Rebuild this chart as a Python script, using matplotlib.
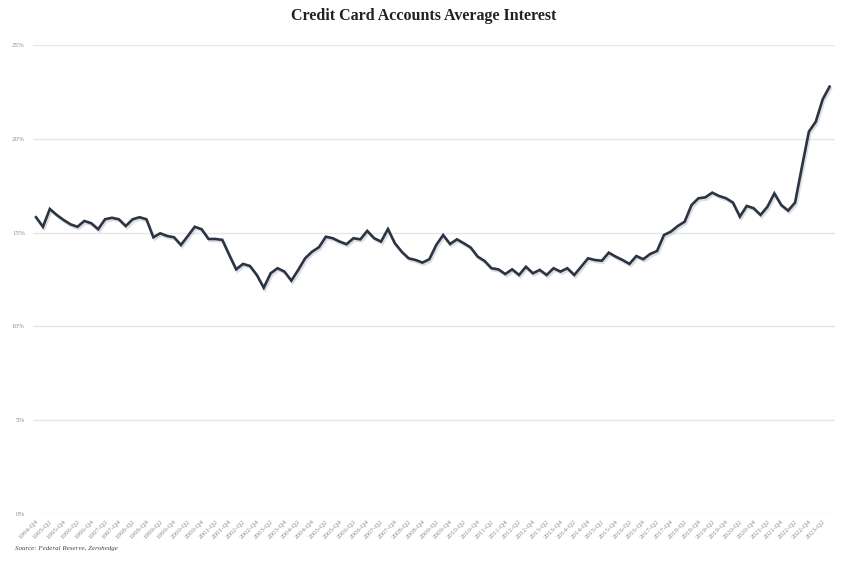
import matplotlib
matplotlib.use("Agg")
import matplotlib.pyplot as plt
import matplotlib.patheffects as pe
import numpy as np

# ----- Data ------------------------------------------------------------------------------------------------------ #

# Quarterly, 1994-Q4 .. 2023-Q3
START_YEAR = 1994
START_Q = 4
RATES = [
    15.82, 15.31, 16.26, 15.94, 15.67, 15.44, 15.31, 15.62, 15.50, 15.18,
    15.71, 15.79, 15.71, 15.35, 15.71, 15.82, 15.71, 14.75, 14.96, 14.82,
    14.75, 14.34, 14.82, 15.31, 15.18, 14.66, 14.66, 14.61, 13.81, 13.04,
    13.33, 13.22, 12.74, 12.06, 12.83, 13.10, 12.92, 12.44,
    13.01, 13.63, 13.98, 14.22, 14.78, 14.70, 14.52, 14.38, 14.70, 14.64,
    15.09, 14.70, 14.52, 15.19, 14.43, 13.98, 13.63, 13.54, 13.40, 13.58,
    14.34, 14.87, 14.39, 14.64, 14.43, 14.20, 13.72, 13.49, 13.10, 13.04,
    12.79, 13.04, 12.74, 13.18, 12.83, 13.01, 12.74, 13.10,
    12.92, 13.10, 12.74, 13.18, 13.63, 13.54, 13.50, 13.93, 13.72, 13.54,
    13.33, 13.75, 13.58, 13.86, 14.02, 14.87, 15.05, 15.35, 15.58, 16.47,
    16.83, 16.88, 17.13, 16.95, 16.83, 16.60, 15.85, 16.42, 16.30, 15.94,
    16.38, 17.09, 16.47, 16.17, 16.60, 18.51, 20.38, 20.91, 22.10, 22.78,
]

Y_TICKS = [0, 5, 10, 15, 20, 25]
TITLE = "Credit Card Accounts Average Interest"
SOURCE = "Source: Federal Reserve, Zerohedge"

# ----- Build labels ---------------------------------------------------------------------------------------------- #

labels = []
year, q = START_YEAR, START_Q
for _ in RATES:
    labels.append(f"{year}-Q{q}")
    q += 1
    if q > 4:
        q = 1
        year += 1

x = np.arange(len(RATES))

# ----- Plot ------------------------------------------------------------------------------------------------------ #

fig = plt.figure(figsize=(8.48, 5.64), dpi=100)
ax = fig.add_axes([0.039, 0.0887, 0.946, 0.8315])

ax.plot(x, RATES, color="#2b3442", linewidth=1.9, solid_joinstyle="miter",
        path_effects=[pe.SimpleLineShadow(offset=(1, -1.5), shadow_color="#9aa0a8", alpha=0.35),
                      pe.Normal()])

ax.set_ylim(0, 25)
ax.set_xlim(-0.43, 115.83)
ax.set_yticks(Y_TICKS)
ax.set_yticklabels([f"{t}%" for t in Y_TICKS])
ax.grid(axis="y", color="#e6e6e6", linewidth=1.0)
ax.set_axisbelow(True)

ax.set_xticks(x[::2])
ax.set_xticklabels(labels[::2], rotation=45, ha="right", rotation_mode="anchor")

for s in ax.spines.values():
    s.set_visible(False)
ax.tick_params(axis="both", length=0, colors="#8c8c8c", labelsize=5)
ax.tick_params(axis="y", pad=6)
for t in ax.get_yticklabels() + ax.get_xticklabels():
    t.set_family("Liberation Serif")

fig.text(0.5, 0.972, TITLE, ha="center", va="center", fontsize=11.5,
         fontweight="bold", family="Liberation Serif", color="#222222")
fig.text(0.018, 0.028, SOURCE, ha="left", va="center", fontsize=5,
         style="italic", family="Liberation Serif", color="#444444")

fig.savefig("out.png", dpi=100)
